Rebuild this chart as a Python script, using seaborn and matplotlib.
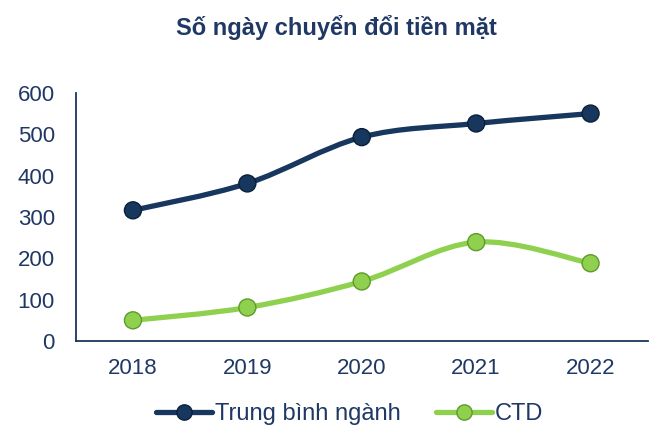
import numpy as np
import pandas as pd
import matplotlib
matplotlib.use("Agg")
import matplotlib.pyplot as plt
from matplotlib.path import Path
from matplotlib.patches import PathPatch
from matplotlib.lines import Line2D
import seaborn as sns

years = ["2018", "2019", "2020", "2021", "2022"]
nganh = [316, 381, 493, 526, 550]
ctd = [50, 81, 144, 239, 188]
series_names = ["Trung bình ngành", "CTD"]

NAVY = "#17375E"
GREEN = "#8FD14F"
TEXT = "#1F3864"

sns.set_theme(style="white")
plt.rcParams["font.family"] = ["Liberation Sans", "DejaVu Sans"]

df = pd.DataFrame({"year": years * 2,
                   "value": nganh + ctd,
                   "series": [series_names[0]] * 5 + [series_names[1]] * 5})

fig = plt.figure(figsize=(6.53, 4.30), dpi=100)
ax = fig.add_axes([0.116, 0.207, 0.876, 0.577])


def smooth_path(xs, ys):
    # Bezier kiểu Catmull-Rom giống "smoothed line" của Excel
    pts = np.column_stack([xs, ys]).astype(float)
    verts = [pts[0]]
    codes = [Path.MOVETO]
    n = len(pts)
    for i in range(n - 1):
        p0 = pts[i - 1] if i > 0 else pts[i]
        p1 = pts[i]
        p2 = pts[i + 1]
        p3 = pts[i + 2] if i + 2 < n else pts[i + 1]
        c1 = p1 + (p2 - p0) / 6.0
        c2 = p2 - (p3 - p1) / 6.0
        verts += [c1, c2, p2]
        codes += [Path.CURVE4] * 3
    return Path(verts, codes)


xs = np.arange(len(years))
for vals, col in [(nganh, NAVY), (ctd, GREEN)]:
    ax.add_patch(PathPatch(smooth_path(xs, vals), fill=False, edgecolor=col,
                           lw=3.8, capstyle="round", zorder=2))

sns.scatterplot(data=df, x="year", y="value", hue="series",
                palette={series_names[0]: NAVY, series_names[1]: GREEN},
                s=150, edgecolor=["#0B1F38"] * 5 + ["#5E9A2A"] * 5, linewidth=1.0,
                legend=False, ax=ax, zorder=3)

ax.set_xlim(-0.5, len(years) - 0.5)
ax.set_ylim(0, 600)
ax.set_yticks(range(0, 601, 100))
ax.set_xlabel("")
ax.set_ylabel("")
sns.despine(ax=ax)
for s in ["left", "bottom"]:
    ax.spines[s].set_color(NAVY)
    ax.spines[s].set_linewidth(1.3)
ax.tick_params(axis="both", colors=TEXT, labelsize=16, length=0)
ax.tick_params(axis="y", pad=15)
ax.tick_params(axis="x", pad=12)
for lab in ax.get_xticklabels() + ax.get_yticklabels():
    lab.set_color(TEXT)

fig.text(0.515, 0.935, "Số ngày chuyển đổi tiền mặt", ha="center", va="center",
         fontsize=17, fontweight="bold", color=TEXT)

handles = [
    Line2D([0], [0], color=NAVY, lw=3.8, marker="o", markersize=11,
           markerfacecolor=NAVY, markeredgecolor="#0B1F38"),
    Line2D([0], [0], color=GREEN, lw=3.8, marker="o", markersize=11,
           markerfacecolor=GREEN, markeredgecolor="#5E9A2A"),
]
leg = fig.legend(handles, series_names, loc="center", bbox_to_anchor=(0.535, 0.037),
                 ncol=2, frameon=False, fontsize=17, handlelength=2.4,
                 handletextpad=0.1, columnspacing=1.5)
for t in leg.get_texts():
    t.set_color(TEXT)

fig.savefig("out.png", dpi=100)
